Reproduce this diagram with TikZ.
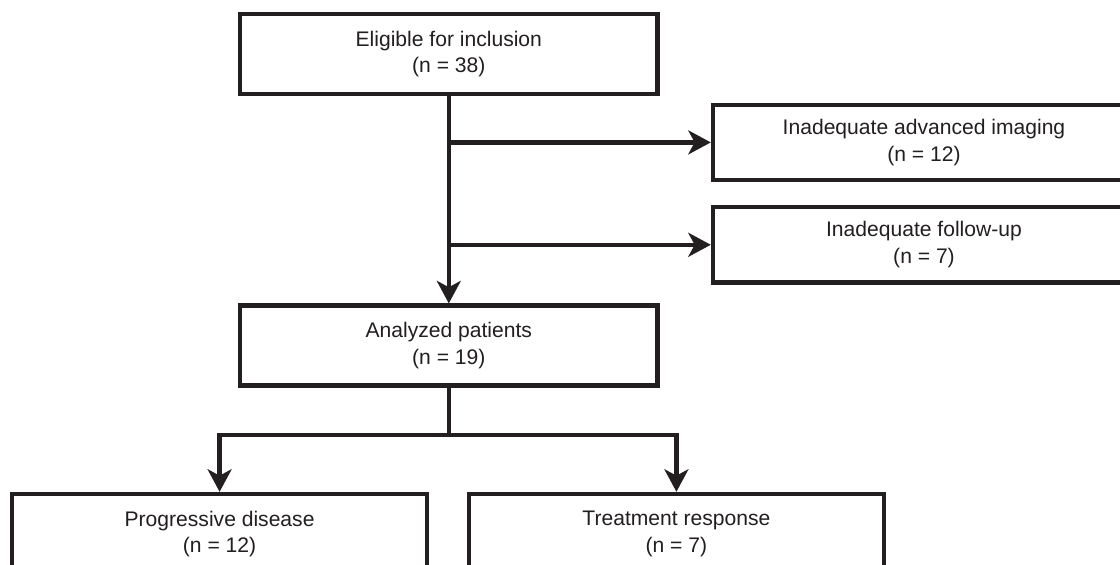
\documentclass[tikz,border=0pt]{standalone}
\usepackage{fontspec}
\setmainfont{Liberation Sans}
\usepackage{tikz}
\usetikzlibrary{arrows.meta}
\definecolor{ink}{HTML}{231F20}

\begin{document}
\begin{tikzpicture}[
    node distance=7.3cm,
    box/.style={rectangle, draw=ink, line width=3.1pt, fill=white, minimum width=10.43cm, minimum height=2.0cm, align=center, text=ink, font=\fontsize{15}{19}\selectfont},
    sidebox/.style={box, minimum width=10.55cm, minimum height=1.88cm},
    endbox/.style={box, minimum width=10.38cm},
    arr/.style={-{Stealth[length=16pt, width=17pt, inset=4.5pt]}, line width=3.1pt, ink},
    ln/.style={line width=3.1pt, ink},
]
\clip (0,0) rectangle (28,-14.125);
\node[box] (elig) at (11.22,-1.35) {Eligible for inclusion\\(n = 38)};
\node[box, below of=elig, node distance=7.29cm] (anal) {Analyzed patients\\(n = 19)};
\node[sidebox] (imaging) at (23.1,-3.56) {Inadequate advanced imaging\\(n = 12)};
\node[sidebox, below of=imaging, node distance=2.56cm] (follow) {Inadequate follow-up\\(n = 7)};
\node[endbox] (prog) at (5.49,-13.35) {Progressive disease\\(n = 12)};
\node[endbox, right of=prog, node distance=11.42cm] (resp) {Treatment response\\(n = 7)};
\coordinate (split) at (11.22,-10.875);

\draw[arr] (elig) -- (anal);
\draw[arr] (elig.south |- imaging.west) -- (imaging.west);
\draw[arr] (elig.south |- follow.west) -- (follow.west);
\draw[ln] (anal) -- (split);
\draw[arr] (split) -| (prog);
\draw[arr] (split) -| (resp);
\end{tikzpicture}
\end{document}
